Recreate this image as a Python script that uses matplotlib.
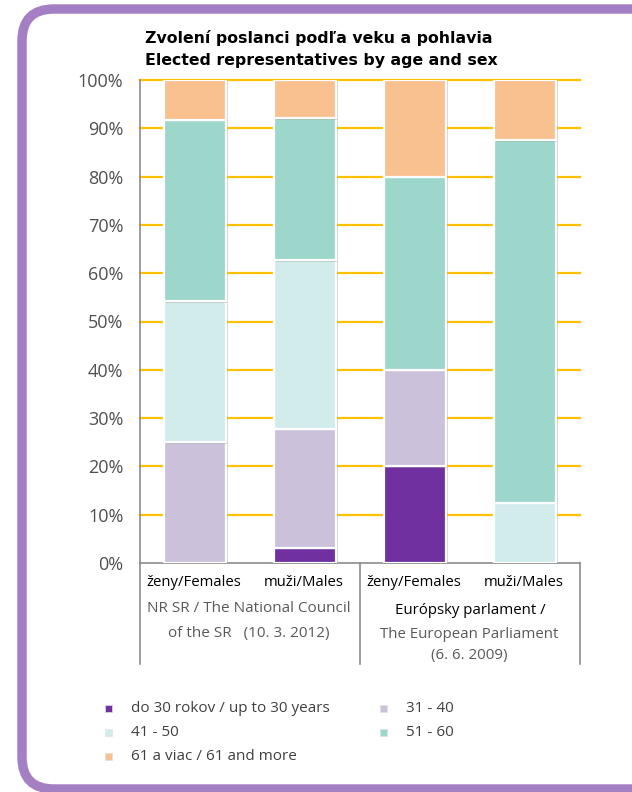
import matplotlib
matplotlib.use("Agg")
import matplotlib.pyplot as plt
import matplotlib.patheffects as pe
from matplotlib.patches import FancyBboxPatch, Rectangle
import numpy as np

plt.rcParams['font.family'] = ['Open Sans', 'DejaVu Sans']

# data (percent of elected representatives in each column)
columns = ["ženy/Females", "muži/Males", "ženy/Females", "muži/Males"]
age_groups = ["do 30 rokov / up to 30 years", "31 - 40", "41 - 50", "51 - 60",
              "61 a viac / 61 and more"]
up_to_30 = [0.0, 3.2, 20.0, 0.0]
age_31_40 = [25.0, 24.6, 20.0, 0.0]
age_41_50 = [29.2, 34.9, 0.0, 12.5]
age_51_60 = [37.5, 29.4, 40.0, 75.0]
age_61_more = [8.3, 7.9, 20.0, 12.5]
yticks = [0, 10, 20, 30, 40, 50, 60, 70, 80, 90, 100]

colors = ["#7030A0", "#CCC1DA", "#D2ECEC", "#9DD6CB", "#FAC190"]
series = [up_to_30, age_31_40, age_41_50, age_51_60, age_61_more]

W, H = 632, 792
fig = plt.figure(figsize=(W / 100, H / 100), dpi=100)

# overlay in pixel coordinates for frame, labels and legend
ov = fig.add_axes([0, 0, 1, 1], zorder=0)
ov.set_xlim(0, W)
ov.set_ylim(H, 0)
ov.axis("off")

frame = FancyBboxPatch((22, 9), 680, 780, boxstyle="round,pad=0,rounding_size=32",
                       linewidth=6.8, edgecolor="#A57FC3", facecolor="white")
ov.add_patch(frame)

# main chart
ax = fig.add_axes([140 / W, 1 - 563 / H, 440 / W, 483 / H], zorder=2)
ax.patch.set_alpha(0)
x = np.arange(len(columns))
bottom = np.zeros(len(columns))
shadow = [pe.SimplePatchShadow(offset=(1.5, -1.0), shadow_rgbFace="#888888", alpha=0.35),
          pe.Normal()]
for vals, col in zip(series, colors):
    bars = ax.bar(x, vals, width=0.57, bottom=bottom, color=col,
                  edgecolor="white", linewidth=1.6, zorder=3)
    for b in bars:
        if b.get_height() > 0:
            b.set_path_effects(shadow)
        else:
            b.set_visible(False)
    bottom += np.array(vals)

ax.set_xlim(-0.5, 3.5)
ax.set_ylim(0, 100)
ax.set_yticks(yticks)
ax.set_yticklabels([f"{t}%" for t in yticks], fontsize=13, color="#505050")
ax.tick_params(axis="y", length=0, pad=12)
ax.set_xticks([])
for t in yticks[1:]:
    ax.axhline(t, color="#FFC000", linewidth=1.6, zorder=1, clip_on=False)
for s in ["top", "right", "bottom"]:
    ax.spines[s].set_visible(False)
ax.spines["left"].set_color("#8C8C8C")
ax.spines["left"].set_linewidth(1.2)

# boxes under the axis
ov.plot([140, 580], [563, 563], color="#8C8C8C", linewidth=1.2, zorder=3)
for xx in [140, 360, 580]:
    ov.plot([xx, xx], [563, 664], color="#8C8C8C", linewidth=1.2, zorder=3)

# column labels
for i, lab in enumerate(columns):
    px = 140 + 55 + 110 * i
    ov.text(px - 1, 583, lab, ha="center", va="center", fontsize=10.7, color="black")

ov.text(249, 609, "NR SR / The National Council", ha="center", va="center",
        fontsize=11, color="#595959")
ov.text(249, 633, "of the SR   (10. 3. 2012)", ha="center", va="center",
        fontsize=11, color="#595959")
ov.text(470, 611, "Európsky parlament /", ha="center", va="center",
        fontsize=10.8, color="black")
ov.text(469, 634, "The European Parliament", ha="center", va="center",
        fontsize=10.8, color="#595959")
ov.text(469, 655, "(6. 6. 2009)", ha="center", va="center",
        fontsize=10.8, color="#595959")

# title
title_font = ["DejaVu Sans"]
ov.text(145, 38, "Zvolení poslanci podľa veku a pohlavia", ha="left", va="center",
        fontsize=11.3, fontweight="bold", color="black", family=title_font)
ov.text(145, 60, "Elected representatives by age and sex", ha="left", va="center",
        fontsize=11.3, fontweight="bold", color="black", family=title_font)

# legend
legend_pos = [(108, 708), (383, 708), (108, 732), (383, 732), (108, 756)]
for (lx, ly), lab, col in zip(legend_pos, age_groups, colors):
    ov.add_patch(Rectangle((lx - 3.5, ly - 3.5), 7, 7, facecolor=col, edgecolor="#E0E0E0",
                           linewidth=0.5, zorder=3))
    ov.text(lx + 23, ly, lab, ha="left", va="center", fontsize=11, color="#404040")

fig.savefig("out.png", dpi=100)
